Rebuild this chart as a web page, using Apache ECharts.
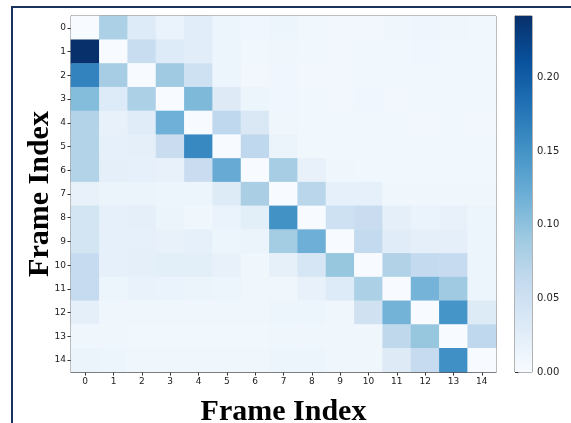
<!DOCTYPE html>
<html>
<head>
<meta charset="utf-8">
<script src="https://cdn.jsdelivr.net/npm/echarts@6/dist/echarts.min.js"></script>
<style>
  html, body { margin: 0; padding: 0; background: #fff; }
  #chart { width: 571px; height: 423px; }
</style>
</head>
<body>
<div id="chart"></div>
<script>
// Frame indices shown on both axes
const frameLabels = ['0','1','2','3','4','5','6','7','8','9','10','11','12','13','14'];

// Pairwise frame weights, one row per frame (row = y index, column = x index)
const row0  = [0.000, 0.080, 0.032, 0.016, 0.027, 0.012, 0.009, 0.012, 0.008, 0.007, 0.007, 0.010, 0.011, 0.010, 0.008];
const row1  = [0.242, 0.000, 0.057, 0.032, 0.027, 0.012, 0.008, 0.010, 0.008, 0.007, 0.008, 0.008, 0.009, 0.008, 0.008];
const row2  = [0.165, 0.085, 0.000, 0.090, 0.050, 0.013, 0.007, 0.009, 0.007, 0.007, 0.008, 0.008, 0.008, 0.008, 0.008];
const row3  = [0.106, 0.032, 0.080, 0.000, 0.109, 0.030, 0.012, 0.009, 0.008, 0.007, 0.009, 0.007, 0.008, 0.008, 0.008];
const row4  = [0.075, 0.018, 0.028, 0.119, 0.000, 0.065, 0.035, 0.010, 0.008, 0.008, 0.008, 0.008, 0.007, 0.008, 0.007];
const row5  = [0.075, 0.020, 0.022, 0.056, 0.160, 0.000, 0.065, 0.015, 0.008, 0.008, 0.008, 0.008, 0.008, 0.008, 0.008];
const row6  = [0.075, 0.022, 0.020, 0.018, 0.056, 0.124, 0.000, 0.085, 0.018, 0.010, 0.008, 0.008, 0.008, 0.008, 0.008];
const row7  = [0.018, 0.015, 0.015, 0.012, 0.012, 0.031, 0.082, 0.000, 0.070, 0.020, 0.020, 0.010, 0.010, 0.010, 0.010];
const row8  = [0.044, 0.020, 0.022, 0.015, 0.010, 0.016, 0.025, 0.151, 0.000, 0.050, 0.056, 0.022, 0.016, 0.018, 0.012];
const row9  = [0.044, 0.020, 0.020, 0.018, 0.020, 0.013, 0.015, 0.086, 0.120, 0.000, 0.062, 0.028, 0.022, 0.022, 0.012];
const row10 = [0.060, 0.020, 0.022, 0.025, 0.025, 0.018, 0.010, 0.021, 0.040, 0.095, 0.000, 0.076, 0.062, 0.060, 0.012];
const row11 = [0.060, 0.012, 0.017, 0.016, 0.015, 0.012, 0.010, 0.010, 0.018, 0.032, 0.080, 0.000, 0.115, 0.090, 0.012];
const row12 = [0.022, 0.010, 0.010, 0.010, 0.010, 0.010, 0.010, 0.012, 0.012, 0.010, 0.048, 0.116, 0.000, 0.148, 0.031];
const row13 = [0.010, 0.010, 0.008, 0.008, 0.008, 0.008, 0.008, 0.010, 0.010, 0.010, 0.010, 0.066, 0.095, 0.000, 0.065];
const row14 = [0.015, 0.012, 0.010, 0.010, 0.010, 0.010, 0.010, 0.012, 0.012, 0.010, 0.010, 0.030, 0.060, 0.153, 0.000];

const rows = [row0, row1, row2, row3, row4, row5, row6, row7, row8, row9, row10, row11, row12, row13, row14];

// Colour scale range and colour-bar ticks
const scaleMin = 0;
const scaleMax = 0.242;
const colorbarTicks = [0, 0.05, 0.10, 0.15, 0.20];

// Sequential blue palette (light to dark)
const blues = ['#f7fbff', '#deebf7', '#c6dbef', '#9ecae1', '#6baed6', '#4292c6', '#2171b5', '#08519c', '#08306b'];

const cells = [];
rows.forEach((r, y) => r.forEach((v, x) => cells.push([x, y, v])));

const chart = echarts.init(document.getElementById('chart'), null, { renderer: 'canvas' });

const tickFont = { fontFamily: 'DejaVu Sans', fontSize: 9, color: '#222' };
const titleFont = { fontFamily: 'Liberation Serif', fontWeight: 'bold', fontSize: 30, color: '#000' };

chart.setOption({
  animation: false,
  backgroundColor: '#fff',
  graphic: [{
    type: 'rect',
    shape: { x: 12, y: 7, width: 620, height: 480 },
    style: { fill: 'none', stroke: '#1b325f', lineWidth: 2 },
    silent: true
  }],
  grid: [
    { left: 71, top: 16, width: 425, height: 356, outerBoundsMode: 'none', containLabel: false,
      show: true, borderColor: '#555', borderWidth: 1, backgroundColor: 'transparent' },
    { left: 515, top: 16, width: 17, height: 356, outerBoundsMode: 'none', containLabel: false,
      show: true, borderColor: '#666', borderWidth: 1 }
  ],
  xAxis: [
    {
      gridIndex: 0, type: 'category', data: frameLabels, position: 'bottom',
      name: 'Frame Index', nameLocation: 'middle', nameGap: 25, nameMoveOverlap: false, nameTextStyle: titleFont,
      axisLine: { show: true, lineStyle: { color: '#555', width: 1 } },
      axisTick: { show: true, alignWithLabel: true, length: 3.5, lineStyle: { color: '#333' } },
      axisLabel: Object.assign({ margin: 5 }, tickFont),
      splitLine: { show: false }
    },
    { gridIndex: 1, type: 'value', min: 0, max: 1, show: false }
  ],
  yAxis: [
    {
      gridIndex: 0, type: 'category', data: frameLabels, inverse: true,
      name: 'Frame Index', nameLocation: 'middle', nameGap: 16, nameRotate: 90, nameMoveOverlap: false, nameTextStyle: titleFont,
      axisLine: { show: true, lineStyle: { color: '#555', width: 1 } },
      axisTick: { show: true, alignWithLabel: true, length: 3.5, lineStyle: { color: '#333' } },
      axisLabel: Object.assign({ margin: 5 }, tickFont),
      splitLine: { show: false }
    },
    {
      gridIndex: 1, type: 'value', min: scaleMin, max: scaleMax, position: 'right',
      axisLine: { show: true, lineStyle: { color: '#666' } },
      axisTick: { show: true, length: 3.5, lineStyle: { color: '#333' }, customValues: colorbarTicks },
      axisLabel: { customValues: colorbarTicks, formatter: v => v.toFixed(2), margin: 5, fontFamily: 'DejaVu Sans', fontSize: 10, color: '#222' },
      splitLine: { show: false }
    }
  ],
  visualMap: {
    show: false, type: 'continuous', min: scaleMin, max: scaleMax,
    seriesIndex: 0, inRange: { color: blues }
  },
  series: [
    {
      type: 'heatmap', xAxisIndex: 0, yAxisIndex: 0, data: cells,
      itemStyle: { borderWidth: 0 }, emphasis: { disabled: true }
    },
    {
      // colour bar: a single gradient bar spanning the full value range
      type: 'custom', xAxisIndex: 1, yAxisIndex: 1, silent: true,
      data: [[0, scaleMin, 1, scaleMax]],
      renderItem: function (params, api) {
        const p0 = api.coord([api.value(0), api.value(1)]);
        const p1 = api.coord([api.value(2), api.value(3)]);
        const stops = blues.map((c, i) => ({ offset: i / (blues.length - 1), color: c }));
        return {
          type: 'rect',
          shape: { x: p0[0], y: p1[1], width: p1[0] - p0[0], height: p0[1] - p1[1] },
          style: { fill: new echarts.graphic.LinearGradient(0, 1, 0, 0, stops) }
        };
      },
      z: 1
    }
  ]
});
</script>
</body>
</html>
